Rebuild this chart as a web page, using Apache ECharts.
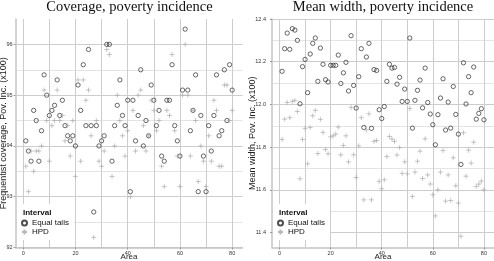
<!DOCTYPE html>
<html><head><meta charset="utf-8">
<script src="https://cdn.jsdelivr.net/npm/echarts@6/dist/echarts.min.js"></script>
<style>html,body{margin:0;padding:0;background:#fff}#c{width:494px;height:261px}</style>
</head><body><div id="c"></div>
<script>
const areas = [1,2,3,4,5,6,7,8,9,10,11,12,13,14,15,16,17,18,19,20,21,22,23,24,25,26,27,28,29,30,31,32,33,34,35,36,37,38,39,40,41,42,43,44,45,46,47,48,49,50,51,52,53,54,55,56,57,58,59,60,61,62,63,64,65,66,67,68,69,70,71,72,73,74,75,76,77,78,79,80];
const covEqualTails = [94.1,93.9,93.7,94.7,94.5,93.7,94.3,95.4,95.0,94.6,
94.7,94.8,95.3,94.6,94.9,94.4,94.2,94.1,94.2,94.0,
95.2,94.7,95.6,94.4,95.9,94.4,92.7,94.4,94.0,94.1,
94.2,96.0,96.0,93.7,94.4,94.8,95.3,94.6,94.4,94.9,
93.1,94.9,94.1,94.6,95.5,94.0,94.5,94.2,95.2,94.9,
94.4,94.7,93.8,93.7,94.9,94.9,95.6,94.4,94.1,93.8,
95.1,96.3,95.1,94.3,94.7,95.4,93.1,94.6,93.8,93.1,
94.4,93.9,94.6,95.4,94.2,94.3,95.5,94.5,95.6,95.1];
const covHPD = [93.6,93.1,93.9,93.5,93.9,93.9,94.0,95.1,94.5,93.7,
94.4,94.5,95.1,94.5,94.6,94.1,94.4,93.8,94.5,93.4,
95.3,93.7,95.3,94.9,95.1,94.2,92.2,94.5,93.7,93.6,
93.9,95.9,95.8,93.4,94.0,95.0,94.5,94.2,93.8,94.3,
93.0,94.7,93.9,95.0,95.1,94.4,93.9,94.2,94.9,94.7,
94.3,94.5,93.6,93.2,94.7,94.6,95.8,94.3,93.8,93.2,
95.0,96.0,95.0,93.8,94.7,94.5,93.3,94.0,93.7,93.2,
94.2,93.7,94.9,94.7,93.6,93.6,95.2,95.2,94.5,94.7];
const widthEqualTails = [12.155,12.261,12.334,12.258,12.355,12.348,12.300,12.003,12.177,12.211,
12.055,12.236,12.286,12.311,12.108,12.264,12.188,12.116,12.105,12.183,
12.183,12.183,12.231,12.098,12.148,12.197,12.063,12.322,12.089,11.983,
12.130,12.261,11.892,12.222,12.286,11.888,12.163,12.159,11.975,11.934,
11.990,12.108,12.188,12.170,12.173,12.095,12.127,12.014,12.072,12.014,
12.311,11.889,12.019,12.066,12.114,11.984,12.170,12.009,11.955,11.905,
11.811,11.952,12.030,12.120,11.880,12.011,11.889,12.084,11.953,11.861,
11.719,12.195,12.002,12.130,12.055,12.175,11.931,11.958,11.980,11.928];
const widthHPD = [11.836,11.931,12.009,11.938,12.014,12.019,11.967,11.652,11.836,11.888,
11.722,11.892,11.947,11.972,11.770,11.930,11.869,11.789,11.769,11.848,
11.853,11.861,11.894,11.764,11.808,11.853,11.731,11.986,11.764,11.658,
11.806,11.938,11.553,11.881,11.956,11.553,11.827,11.831,11.640,11.605,
11.647,11.756,11.850,11.838,11.827,11.763,11.798,11.677,11.731,11.675,
11.981,11.569,11.683,11.734,11.781,11.653,11.839,11.670,11.627,11.577,
11.478,11.600,11.683,11.784,11.547,11.670,11.550,11.750,11.619,11.538,
11.383,11.867,11.664,11.786,11.725,11.823,11.616,11.627,11.641,11.600];
const xTicks = [0,20,40,60,80];
const covTicks = [92,93,94,95,96];
const widthTicks = [11.4,11.6,11.8,12.0,12.2,12.4];
const seriesNames = ['Equal tails','HPD'];
const panelTitles = ['Coverage, poverty incidence','Mean width, poverty incidence'];
const yNames = ['Frequentist coverage, Pov. Inc. (x100)','Mean width, Pov. Inc. (x100)'];
const xName = 'Area';
const legendTitle = 'Interval';

const chart = echarts.init(document.getElementById('c'), null, {renderer:'canvas'});
const MAJOR = '#cdcdcd', MINOR = '#e4e4e4', AXIS = '#c4c4c4', LBL = '#333';
function near(v, list){ return list.some(t => Math.abs(t - v) < 1e-6); }
function xAxisCfg(gi){
  return {type:'value', gridIndex:gi, min:-2.95, max:83.95, minInterval:20, maxInterval:20,
    name:xName, nameLocation:'middle', nameGap:5, nameMoveOverlap:false,
    nameTextStyle:{fontSize:8, color:'#222', fontFamily:'Liberation Sans', verticalAlign:'top'},
    axisLine:{show:true, onZero:false, lineStyle:{color:AXIS, width:1.5}},
    axisTick:{show:true, length:2, customValues:xTicks, lineStyle:{color:'#888', width:0.8}},
    axisLabel:{customValues:xTicks, fontSize:5.5, color:LBL, margin:3, fontFamily:'Liberation Sans',
      formatter:v => near(v, xTicks) ? String(Math.round(v)) : ''},
    splitLine:{show:true, lineStyle:{color:MAJOR, width:1}},
    minorTick:{show:false, splitNumber:2},
    minorSplitLine:{show:true, lineStyle:{color:MAJOR, width:1}}};
}
function yAxisCfg(gi, min, max, step, ticks, name, nameGap, lblMargin, dec){
  return {type:'value', gridIndex:gi, min:min, max:max, minInterval:step, maxInterval:step,
    name:name, nameLocation:'middle', nameGap:nameGap, nameMoveOverlap:false,
    nameTextStyle:{fontSize:9, color:'#222', fontFamily:'Liberation Sans'},
    axisLine:{show:true, onZero:false, lineStyle:{color:AXIS, width:1.5}},
    axisTick:{show:true, length:2, customValues:ticks, lineStyle:{color:'#888', width:0.8}},
    axisLabel:{customValues:ticks, fontSize:5.5, color:LBL, margin:lblMargin, fontFamily:'Liberation Sans',
      formatter:v => near(v, ticks) ? v.toFixed(dec) : ''},
    splitLine:{show:true, lineStyle:{color:MAJOR, width:1}},
    minorTick:{show:false, splitNumber:2},
    minorSplitLine:{show:true, lineStyle:{color:MINOR, width:1}}};
}
const circleStyle = {color:'rgba(0,0,0,0)', borderColor:'#222', borderWidth:0.85};
const plusStyle = {color:'rgba(0,0,0,0)', borderColor:'#a6a6a6', borderWidth:0.8};
const PLUS = 'path://M0,5L10,5M5,0L5,10';
function mk(vals){ return areas.map((a,i)=>[a, vals[i]]); }
function legendCfg(left){
  return {left:left, top:204, orient:'vertical', backgroundColor:'#fff', padding:[15,5,4,4], z:5,
    itemWidth:5, itemHeight:5, itemGap:1, data:seriesNames,
    textStyle:{fontSize:8, color:'#111', fontFamily:'Liberation Sans'}};
}
function titleText(x, y, text, font){
  return {type:'text', z:100, style:{x:x, y:y, text:text, font:font, fill:'#111', textAlign:'center', textVerticalAlign:'middle'}};
}
function legTitle(x){
  return {type:'text', z:100, style:{x:x, y:212.5, text:legendTitle, font:'bold 8px "Liberation Sans"', fill:'#111', textAlign:'left', textVerticalAlign:'middle'}};
}
chart.setOption({
  animation:false,
  backgroundColor:'#fff',
  grid:[{left:15.5, top:19, width:227, height:228.5, outerBoundsMode:'none', containLabel:false},
        {left:272, top:19, width:222, height:228.5, outerBoundsMode:'none', containLabel:false}],
  xAxis:[xAxisCfg(0), xAxisCfg(1)],
  yAxis:[yAxisCfg(0, 92, 96.5, 1, covTicks, yNames[0], 7.5, 3, 0),
         yAxisCfg(1, 11.33, 12.4, 0.2, widthTicks, yNames[1], 15, 6, 1)],
  legend:[legendCfg(17), legendCfg(273)],
  graphic:[titleText(129.5, 7, panelTitles[0], '14.5px "Liberation Serif"'),
           titleText(383, 7, panelTitles[1], '14.5px "Liberation Serif"'),
           legTitle(23), legTitle(279)],
  series:[
    {name:seriesNames[0], type:'scatter', xAxisIndex:0, yAxisIndex:0, symbol:'circle', symbolSize:4.3, itemStyle:circleStyle, data:mk(covEqualTails)},
    {name:seriesNames[1], type:'scatter', xAxisIndex:0, yAxisIndex:0, symbol:PLUS, symbolSize:5, itemStyle:plusStyle, data:mk(covHPD)},
    {name:seriesNames[0], type:'scatter', xAxisIndex:1, yAxisIndex:1, symbol:'circle', symbolSize:4.3, itemStyle:circleStyle, data:mk(widthEqualTails)},
    {name:seriesNames[1], type:'scatter', xAxisIndex:1, yAxisIndex:1, symbol:PLUS, symbolSize:5, itemStyle:plusStyle, data:mk(widthHPD)}
  ]
});
</script></body></html>
